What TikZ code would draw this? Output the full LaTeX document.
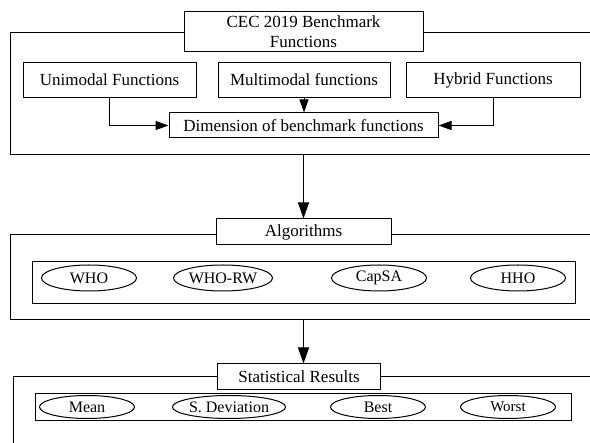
\documentclass[tikz,border=0pt]{standalone}
\usepackage{fontspec}
\setmainfont{Liberation Serif}
\usetikzlibrary{shapes.geometric,arrows.meta}
\begin{document}
\begin{tikzpicture}[x=1pt,y=-1pt,
  frame/.style={draw,line width=1pt,rectangle,inner sep=0pt},
  tbox/.style={draw,fill=white,line width=1pt,rectangle,inner sep=0pt,font=\fontsize{17}{20}\selectfont,align=center},
  oval/.style={draw,ellipse,line width=1pt,inner sep=0pt,minimum width=95pt,font=\fontsize{16}{18}\selectfont},
  arr/.style={line width=1pt,-{Triangle[length=13pt,width=9pt]}},
  bigarr/.style={line width=1pt,-{Triangle[length=16pt,width=11pt]}}]
\useasboundingbox[fill=white] (0,0) rectangle (590,443);
% outer frames (extend past the right edge)
\node[frame,minimum width=600pt,minimum height=122pt] (outer1) at (310,94) {};
\node[frame,minimum width=600pt,minimum height=85pt] (outer2) at (310,277.5) {};
\node[frame,minimum width=597pt,minimum height=90pt] (outer3) at (311.5,422) {};
% section 1
\node[tbox,minimum width=239pt,minimum height=40pt] (title) at (303.5,32) {CEC 2019 Benchmark\\Functions};
\node[tbox,minimum width=173pt,minimum height=35pt] (uni) at (109.5,80) {Unimodal Functions};
\node[tbox,minimum width=172pt,minimum height=35pt] (multi) at (304,80) {Multimodal functions};
\node[tbox,minimum width=174pt,minimum height=35pt] (hyb) at (493,80) {Hybrid Functions};
\node[tbox,minimum width=269pt,minimum height=25pt] (dim) at (303.5,125.5) {Dimension of benchmark functions};
\draw[arr] (uni.south) |- (dim.west);
\draw[arr] (hyb.south) |- (dim.east);
\draw[arr] (multi.south) -- (multi.south |- dim.north);
% section 2
\node[tbox,minimum width=175pt,minimum height=26pt] (alg) at (303.5,232) {Algorithms};
\draw[bigarr] (outer1.south -| alg.north) -- (alg.north);
\node[frame,minimum width=543pt,minimum height=42pt] (inner2) at (303.5,283) {};
\node[oval,minimum height=26pt] (who) at (89,278) {WHO};
\node[oval,minimum height=26pt,minimum width=99pt] (whorw) at (223,278) {WHO-RW};
\node[oval,minimum height=26pt] (capsa) at (379,278) {CapSA};
\node[oval,minimum height=26pt] (hho) at (518,278) {HHO};
% section 3
\node[tbox,minimum width=163pt,minimum height=26pt] (stat) at (299,377) {Statistical Results};
\coordinate (a2) at (outer2.south -| alg.south);
\draw[bigarr] (a2) -- (a2 |- stat.north);
\node[frame,minimum width=536pt,minimum height=27pt] (inner3) at (303,407) {};
\node[oval,minimum height=23pt] (mean) at (87,407) {Mean};
\node[oval,minimum height=23pt,minimum width=97pt] (sdev) at (229,407) {S. Deviation};
\node[oval,minimum height=23pt] (best) at (378,407) {Best};
\node[oval,minimum height=23pt,font=\fontsize{15}{17}\selectfont] (worst) at (508,407) {Worst};
\end{tikzpicture}
\end{document}
